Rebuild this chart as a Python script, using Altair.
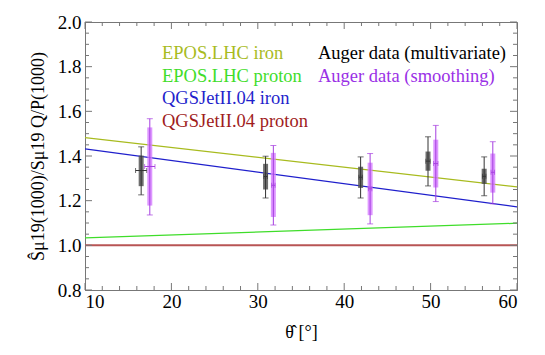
import altair as alt
import pandas as pd

# ---- model lines (value at theta = 10 and 60 deg) ----
line_x = [10, 60]
epos_fe = [1.482, 1.262]
epos_p = [1.033, 1.099]
qgs_fe = [1.432, 1.172]
qgs_p = [1.0, 1.0]

# ---- Auger data (multivariate) ----
mv_x = [16.5, 30.9, 41.9, 49.7, 56.2]
mv_c = [1.335, 1.308, 1.305, 1.377, 1.309]
mv_box_lo = [1.265, 1.250, 1.257, 1.334, 1.275]
mv_box_hi = [1.402, 1.365, 1.352, 1.420, 1.343]
mv_lo = [1.226, 1.212, 1.212, 1.266, 1.222]
mv_hi = [1.441, 1.399, 1.396, 1.486, 1.396]
mv_xerr = [0.65, 0.2, 0.2, 0.25, 0.2]

# ---- Auger data (smoothing) ----
sm_x = [17.5, 31.8, 43.0, 50.6, 57.2]
sm_c = [1.353, 1.269, 1.253, 1.366, 1.327]
sm_box_lo = [1.178, 1.127, 1.135, 1.259, 1.236]
sm_box_hi = [1.528, 1.414, 1.370, 1.473, 1.411]
sm_lo = [1.136, 1.091, 1.096, 1.196, 1.186]
sm_hi = [1.567, 1.447, 1.411, 1.537, 1.464]
sm_xerr = [0.6, 0.2, 0.2, 0.25, 0.2]

# ---- axis ticks ----
x_major = [10, 20, 30, 40, 50, 60]
x_minor = [12, 14, 16, 18, 22, 24, 26, 28, 32, 34, 36, 38,
           42, 44, 46, 48, 52, 54, 56, 58]
y_major = [0.8, 1.0, 1.2, 1.4, 1.6, 1.8, 2.0]
y_minor = [0.85, 0.9, 0.95, 1.05, 1.1, 1.15, 1.25, 1.3, 1.35, 1.45, 1.5, 1.55,
           1.65, 1.7, 1.75, 1.85, 1.9, 1.95]

FONT = "Liberation Serif"
W, H = 432, 268

xs = alt.Scale(domain=[10, 60], nice=False, zero=False)
ys = alt.Scale(domain=[0.8, 2.0], nice=False, zero=False)

x_axis = alt.Axis(values=x_major, ticks=False, grid=False, labelFont=FONT,
                  labelFontSize=19, labelColor="black", domainColor="#777",
                  labelPadding=2, title="θ̂ [°]", titleFont=FONT,
                  titleFontSize=18, titleFontWeight="normal", titleColor="black",
                  titlePadding=12)
y_axis = alt.Axis(values=y_major, ticks=False, grid=False, labelFont=FONT,
                  labelFontSize=19, labelColor="black", domainColor="#777",
                  labelPadding=4, format=".1f",
                  title="Ŝμ19(1000)/Sμ19 Q/P(1000)", titleFont=FONT,
                  titleFontSize=18, titleFontWeight="normal", titleColor="black",
                  titlePadding=10)

# model lines
lines_df = pd.DataFrame({
    "x": line_x * 4,
    "y": epos_fe + epos_p + qgs_fe + qgs_p,
    "m": ["epos_fe"] * 2 + ["epos_p"] * 2 + ["qgs_fe"] * 2 + ["qgs_p"] * 2,
})
model_colors = {"epos_fe": "#a8bb1e", "epos_p": "#3fdd2a",
                "qgs_fe": "#1f1fcc", "qgs_p": "#b85555"}

base_lines = []
for key, col in model_colors.items():
    sw = 2 if key == "qgs_p" else 1.2
    base_lines.append(
        alt.Chart(lines_df[lines_df.m == key]).mark_line(color=col, strokeWidth=sw, clip=True)
        .encode(x=alt.X("x:Q", scale=xs, axis=x_axis),
                y=alt.Y("y:Q", scale=ys, axis=y_axis))
    )

def data_layers(xv, c, blo, bhi, lo, hi, xerr, box_col, box_op, line_col):
    df = pd.DataFrame({"x": xv, "c": c, "blo": blo, "bhi": bhi, "lo": lo, "hi": hi,
                       "xlo": [a - e for a, e in zip(xv, xerr)],
                       "xhi": [a + e for a, e in zip(xv, xerr)]})
    b = alt.Chart(df)
    box = b.mark_rule(strokeWidth=5, color=box_col, opacity=box_op).encode(
        x="x:Q", y="blo:Q", y2="bhi:Q")
    whisk = b.mark_rule(strokeWidth=1, color=line_col).encode(
        x="x:Q", y="lo:Q", y2="hi:Q")
    cap_lo = b.mark_tick(orient="horizontal", size=6, thickness=1, color=line_col).encode(
        x="x:Q", y="lo:Q")
    cap_hi = b.mark_tick(orient="horizontal", size=6, thickness=1, color=line_col).encode(
        x="x:Q", y="hi:Q")
    hbar = b.mark_rule(strokeWidth=1, color=line_col).encode(
        x="xlo:Q", x2="xhi:Q", y="c:Q")
    hcap_l = b.mark_tick(orient="vertical", size=5, thickness=1, color=line_col).encode(
        x="xlo:Q", y="c:Q")
    hcap_r = b.mark_tick(orient="vertical", size=5, thickness=1, color=line_col).encode(
        x="xhi:Q", y="c:Q")
    return [box, whisk, cap_lo, cap_hi, hbar, hcap_l, hcap_r]

mv_layers = data_layers(mv_x, mv_c, mv_box_lo, mv_box_hi, mv_lo, mv_hi, mv_xerr,
                        "#555555", 0.85, "#333333")
sm_layers = data_layers(sm_x, sm_c, sm_box_lo, sm_box_hi, sm_lo, sm_hi, sm_xerr,
                        "#d57cff", 0.8, "#a63fe0")

# inward frame ticks
TC = "#777777"
def yticks(vals, length):
    d = alt.Chart(pd.DataFrame({"y": vals}))
    left = d.mark_rule(color=TC, strokeWidth=1).encode(
        y="y:Q", x=alt.value(0), x2=alt.value(length))
    right = d.mark_rule(color=TC, strokeWidth=1).encode(
        y="y:Q", x=alt.value(W), x2=alt.value(W - length))
    return [left, right]

def xticks(vals, length):
    d = alt.Chart(pd.DataFrame({"x": vals}))
    bottom = d.mark_rule(color=TC, strokeWidth=1).encode(
        x="x:Q", y=alt.value(H), y2=alt.value(H - length))
    top = d.mark_rule(color=TC, strokeWidth=1).encode(
        x="x:Q", y=alt.value(0), y2=alt.value(length))
    return [bottom, top]

tick_layers = yticks(y_major, 7) + yticks(y_minor, 4) + xticks(x_major, 7) + xticks(x_minor, 4)

# legend texts
legend_items = [
    ("EPOS.LHC iron", "#a8bb1e", 77, 31),
    ("EPOS.LHC proton", "#3fdd2a", 77, 53.5),
    ("QGSJetII.04 iron", "#1f1fcc", 77, 76),
    ("QGSJetII.04 proton", "#a01c1c", 77, 98.5),
    ("Auger data (multivariate)", "#000000", 233, 31),
    ("Auger data (smoothing)", "#9a30e6", 233, 53.5),
]
text_layers = []
for label, col, px, py in legend_items:
    text_layers.append(
        alt.Chart(pd.DataFrame({"t": [label]})).mark_text(
            font=FONT, fontSize=18.5, color=col, align="left", baseline="middle")
        .encode(text="t:N", x=alt.value(px), y=alt.value(py))
    )

chart = alt.layer(*base_lines, *mv_layers, *sm_layers, *tick_layers, *text_layers).properties(
    width=W, height=H,
    autosize=alt.AutoSizeParams(type="none"),
    padding={"left": 77, "top": 14, "right": 20, "bottom": 57},
).configure_view(stroke="#777777", strokeWidth=1)

chart.save("out.html", embed_options={"renderer": "svg", "actions": False})
